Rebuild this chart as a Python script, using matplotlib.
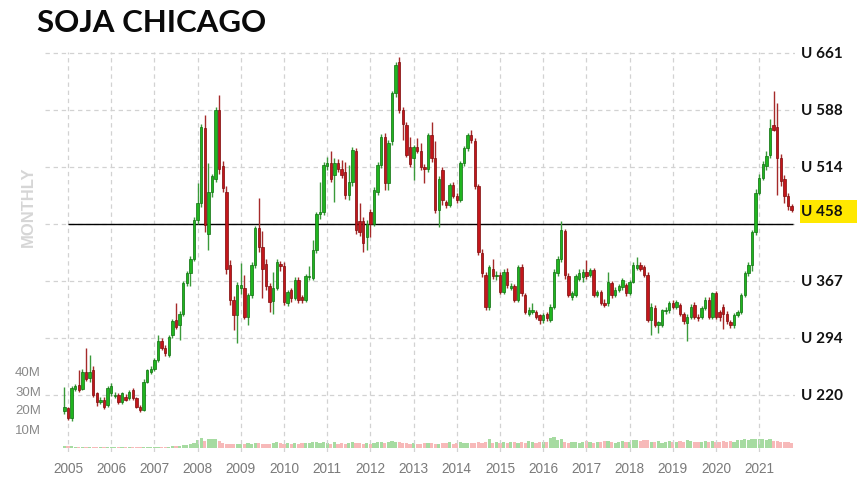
import matplotlib
matplotlib.use("Agg")
import matplotlib.pyplot as plt
from matplotlib.patches import Rectangle
import numpy as np

plt.rcParams['font.family'] = ['Liberation Sans', 'DejaVu Sans']

# ---------------- data ----------------
title = "SOJA CHICAGO"
first_year, first_month = 2004, 12          # first candle: Dec 2004 (monthly)
years = list(range(2005, 2022))
grid_levels = [220, 293.5, 367, 440.5, 514, 587.5, 661]
price_labels = ["U 220", "U 294", "U 367", "U 458", "U 514", "U 588", "U 661"]
price_label_levels = [220, 294, 367, 458, 514, 588, 661]
last_price = 458
ref_line = 441
vol_ticks = [10, 20, 30, 40]
vol_tick_labels = ["10M", "20M", "30M", "40M"]

# monthly OHLC in USD / t
opens = [199,
         203, 190, 228, 233, 228, 250, 242, 252, 222, 211, 214, 207,   # 2005
         222, 219, 220, 211, 218, 216, 226, 216, 205, 201, 237, 250,   # 2006
         254, 265, 289, 280, 272, 297, 317, 310, 325, 364, 377, 396,   # 2007
         446, 467, 564, 428, 482, 499, 588, 515, 482, 388, 343, 323,   # 2008
         358, 358, 321, 349, 388, 435, 411, 389, 360, 341, 358, 389,   # 2009
         386, 338, 355, 345, 368, 346, 343, 372, 371, 407, 454, 456,   # 2010
         515, 519, 504, 519, 512, 508, 478, 495, 534, 445, 445, 424,   # 2011
         456, 441, 482, 517, 553, 493, 547, 609, 650, 587, 568, 540,   # 2012
         525, 540, 534, 514, 512, 555, 525, 459, 510, 469, 465, 491,   # 2013
         476, 472, 519, 538, 555, 547, 489, 403, 375, 334, 383, 374,   # 2014
         375, 353, 379, 358, 360, 343, 385, 349, 325, 327, 327, 323,   # 2015
         317, 325, 317, 334, 377, 396, 431, 373, 347, 349, 370, 372,   # 2016
         379, 375, 381, 349, 353, 339, 338, 364, 349, 356, 359, 362,   # 2017
         352, 366, 384, 388, 385, 375, 317, 332, 310, 310, 328, 329,   # 2018
         338, 334, 336, 325, 313, 321, 336, 321, 321, 332, 343, 321,   # 2019
         351, 327, 334, 325, 314, 310, 323, 327, 349, 377, 388, 430,   # 2020
         481, 500, 515, 529, 568, 566, 526, 498, 477, 464]             # 2021
highs = [230,
         205, 231, 234, 252, 253, 280, 272, 258, 224, 218, 217, 232,
         236, 224, 223, 224, 221, 227, 229, 218, 207, 240, 254, 257,
         268, 297, 293, 284, 297, 318, 338, 328, 367, 380, 399, 449,
         493, 570, 581, 519, 505, 592, 607, 522, 490, 394, 348, 366,
         390, 375, 352, 392, 438, 474, 431, 395, 364, 378, 395, 393,
         392, 356, 358, 372, 372, 349, 376, 386, 420, 456, 495, 520,
         527, 534, 525, 524, 523, 521, 517, 540, 538, 467, 450, 446,
         460, 488, 520, 556, 558, 549, 612, 650, 656, 592, 572, 553,
         543, 551, 545, 518, 558, 572, 547, 502, 514, 472, 494, 495,
         480, 522, 541, 558, 562, 551, 492, 408, 378, 388, 396, 380,
         378, 382, 384, 364, 363, 388, 389, 352, 333, 338, 330, 325,
         326, 327, 337, 382, 399, 444, 434, 377, 354, 376, 382, 383,
         394, 384, 384, 356, 356, 344, 379, 367, 359, 363, 371, 365,
         368, 391, 398, 392, 388, 378, 338, 336, 316, 331, 333, 341,
         342, 343, 339, 327, 324, 337, 340, 324, 335, 346, 347, 353,
         354, 330, 337, 328, 317, 326, 330, 352, 380, 392, 433, 485,
         505, 522, 534, 576, 612, 596, 531, 504, 480, 466]
lows = [195,
        188, 187, 225, 224, 226, 238, 237, 217, 206, 208, 202, 204,
        219, 216, 209, 209, 212, 214, 214, 203, 198, 199, 235, 247,
        251, 262, 278, 270, 269, 294, 305, 291, 322, 360, 360, 393,
        440, 462, 430, 407, 475, 495, 505, 482, 376, 336, 304, 287,
        350, 318, 310, 345, 384, 405, 345, 355, 327, 325, 355, 380,
        336, 335, 340, 342, 338, 339, 340, 368, 368, 403, 447, 452,
        510, 495, 469, 508, 500, 473, 472, 490, 428, 425, 405, 407,
        424, 438, 478, 513, 484, 484, 542, 604, 583, 549, 527, 514,
        497, 532, 510, 493, 508, 520, 455, 437, 465, 461, 462, 474,
        468, 469, 515, 535, 545, 485, 400, 372, 330, 330, 370, 368,
        350, 350, 358, 355, 340, 340, 348, 324, 322, 324, 318, 311,
        313, 315, 314, 331, 374, 392, 370, 346, 343, 346, 367, 366,
        370, 372, 346, 346, 336, 333, 335, 345, 346, 353, 356, 348,
        349, 364, 381, 380, 372, 314, 297, 308, 300, 308, 325, 326,
        331, 331, 322, 312, 290, 318, 318, 316, 318, 329, 318, 318,
        318, 316, 305, 312, 306, 307, 320, 325, 346, 374, 380, 426,
        478, 497, 510, 526, 560, 478, 490, 468, 458, 456]
closes = [205,
          190, 229, 231, 227, 250, 241, 250, 220, 211, 214, 205, 229,
          231, 220, 211, 222, 214, 224, 216, 205, 201, 237, 252, 254,
          265, 289, 280, 274, 295, 315, 308, 325, 364, 377, 396, 446,
          467, 566, 439, 482, 502, 588, 512, 487, 383, 343, 323, 362,
          362, 321, 349, 388, 435, 411, 383, 360, 340, 358, 392, 386,
          340, 353, 345, 368, 343, 343, 373, 374, 407, 454, 456, 517,
          519, 499, 519, 512, 504, 478, 495, 536, 433, 430, 416, 441,
          441, 484, 517, 553, 493, 545, 609, 646, 587, 570, 530, 518,
          540, 534, 514, 512, 555, 525, 459, 499, 471, 465, 491, 476,
          472, 519, 538, 555, 549, 489, 405, 377, 334, 385, 373, 375,
          353, 379, 362, 360, 343, 385, 351, 327, 330, 330, 321, 317,
          323, 319, 334, 379, 396, 433, 375, 349, 351, 373, 377, 379,
          373, 381, 349, 353, 338, 336, 366, 349, 356, 361, 368, 351,
          366, 388, 388, 383, 375, 317, 334, 310, 314, 329, 330, 338,
          334, 340, 325, 315, 321, 334, 321, 319, 332, 343, 321, 351,
          321, 321, 325, 315, 310, 323, 327, 349, 377, 388, 430, 481,
          500, 518, 528, 564, 562, 526, 496, 477, 464, 458]
# monthly volume, millions
volumes = [1.3, 1.1, 0.8,
           0.3, 0.3, 0.3, 0.3, 0.3, 0.3, 0.3, 0.3, 0.3, 0.3,
           0.3, 0.3, 0.3, 0.3, 0.3, 0.3, 0.3, 0.3, 0.3, 0.3,
           0.3, 0.3, 0.3, 0.3, 0.3, 0.3, 0.3,
           0.8, 1.0, 1.2, 1.5, 1.8, 2.0, 2.4,
           4.0, 5.3, 3.7, 4.8, 4.9, 4.8, 3.8, 2.6, 2.3, 2.2, 2.0, 2.3,
           2.2, 2.0, 2.5, 2.3, 2.6, 2.4, 2.1, 2.0, 2.3, 2.6, 3.0, 2.4,
           2.1, 2.5, 2.2, 2.6, 2.0, 2.4, 2.8, 2.5, 3.0, 3.2, 2.8, 3.1,
           2.5, 2.3, 2.9, 2.2, 2.4, 2.0, 2.6, 3.0, 2.8, 2.4, 2.2, 2.6,
           2.3, 2.7, 3.0, 3.4, 2.8, 3.2, 3.6, 3.3, 3.0, 2.4, 2.6, 2.2,
           2.4, 2.2, 2.0, 2.5, 2.8, 2.6, 2.3, 2.0, 2.4, 2.6, 2.9, 2.3,
           2.6, 3.0, 2.8, 2.4, 2.6, 2.4, 3.0, 2.5, 3.0, 4.8, 2.8, 3.0,
           2.6, 3.0, 2.5, 3.2, 3.0, 2.8, 3.2, 2.8, 3.5, 3.0, 2.8, 3.2,
           3.0, 3.4, 5.2, 5.6, 4.2, 4.8, 3.2, 2.6, 3.0, 3.4, 2.8, 3.0,
           3.6, 3.0, 2.8, 3.0, 3.2, 3.6, 3.8, 3.0, 2.8, 3.4, 3.6, 3.0,
           3.4, 4.0, 4.2, 3.8, 4.4, 4.0, 3.2, 3.0, 3.6, 2.8, 3.2, 3.6,
           3.0, 3.4, 3.6, 3.2, 4.0, 3.6, 3.0, 3.4, 3.2, 3.8, 3.0, 3.6,
           3.4, 3.0, 3.6, 3.2, 3.8, 3.4, 4.0, 4.2, 4.6, 4.4, 4.8, 5.0,
           4.6, 4.8, 4.4, 4.6, 3.8, 3.6, 3.4, 3.2, 3.0, 2.6]

# ---------------- plot ----------------
o = np.array(opens, float); h = np.array(highs, float)
l = np.array(lows, float); c = np.array(closes, float)
v = np.array(volumes, float)
n = len(o)
# month index relative to Jan of first labelled year
x = np.arange(n) + (first_year - years[0]) * 12 + (first_month - 1)
up = c >= o

W, H = 864, 480
fig = plt.figure(figsize=(W / 100, H / 100), dpi=100)
fig.patch.set_facecolor('white')

ax_left, ax_right, ax_top, ax_bot = 45, 795, 52, 452
ax = fig.add_axes([ax_left / W, 1 - ax_bot / H, (ax_right - ax_left) / W, (ax_bot - ax_top) / H])
ax.set_facecolor('white')
ppx = (661 - 220) / (395 - 53)          # price per pixel
ax.set_ylim(220 - (ax_bot - 395) * ppx, 220 + (395 - ax_top) * ppx)
mpx = 3.6                              # pixels per month
ax.set_xlim((ax_left - 68) / mpx, (ax_right - 68) / mpx)

# grid
grid_kw = dict(color='#d2d2d2', linewidth=0.9, linestyle=(0, (3.5, 3)), zorder=0)
jan_pos = [(yr - years[0]) * 12 for yr in years]
for gx in jan_pos:
    ax.axvline(gx, **grid_kw)
for gy in grid_levels:
    ax.axhline(gy, **grid_kw)

# volume axis
axv = ax.twinx()
zero_px, vpx = 448, 1.9
axv.set_ylim(-(ax_bot - zero_px) / vpx, (zero_px - ax_top) / vpx)
vcol = np.where(up, '#a6dba1', '#f7b9b9')
axv.bar(x, v, width=0.85, color=vcol, linewidth=0, zorder=1)
axv.set_zorder(0)
ax.set_zorder(1)
ax.patch.set_visible(False)
axv.set_facecolor('white')
axv.yaxis.set_ticks_position('left')
axv.yaxis.set_label_position('left')
axv.set_yticks(vol_ticks)
axv.set_yticklabels(vol_tick_labels)
axv.tick_params(axis='y', length=0, pad=3, labelsize=9.5, labelcolor='#8a8a8a')
axv.set_xticks([])

# reference line
ax.hlines(ref_line, 0, x[-1] + 0.5, color='black', linewidth=1.0, zorder=2)

# candles
wick_col = np.where(up, '#3a9a3a', '#a52a2a')
ax.vlines(x, l, h, colors=wick_col, linewidth=1.0, zorder=3)
body_col = np.where(up, '#1fb51f', '#c3161b')
edge_col = np.where(up, '#0f6e0f', '#7d0c0c')
ax.bar(x, np.abs(c - o), bottom=np.minimum(o, c), width=0.72,
       color=body_col, edgecolor=edge_col, linewidth=0.5, zorder=4)

# axes cosmetics
for s in ax.spines.values():
    s.set_visible(False)
for s in axv.spines.values():
    s.set_visible(False)
ax.set_xticks(jan_pos)
ax.set_xticklabels([str(y) for y in years])
ax.tick_params(axis='x', length=0, pad=7, labelsize=9.8, labelcolor='#7a7a7a')
ax.yaxis.set_ticks_position('right')
ax.set_yticks(price_label_levels)
ax.set_yticklabels(price_labels)
ax.tick_params(axis='y', length=0, pad=4, labelsize=11, labelcolor='#111111')
for t in ax.get_yticklabels():
    t.set_family(['Lato', 'DejaVu Sans'])
    t.set_fontweight('bold')

# highlight box for last price
fig.add_artist(Rectangle((800 / W, 1 - 223 / H), 57 / W, 23 / H,
                         transform=fig.transFigure, facecolor='#ffe800',
                         edgecolor='none', zorder=-1))

# title and side text
fig.text(37 / W, 1 - 22.5 / H, title, fontsize=22.5, fontweight='bold',
         family=['Lato', 'DejaVu Sans'], color='#0a0a0a', ha='left', va='center')
fig.text(28 / W, 1 - 207 / H, "MONTHLY", rotation=90, fontsize=12,
         fontweight='bold', color='#d6d6d6', ha='center', va='center')

fig.savefig("out.png", dpi=100, facecolor='white')
